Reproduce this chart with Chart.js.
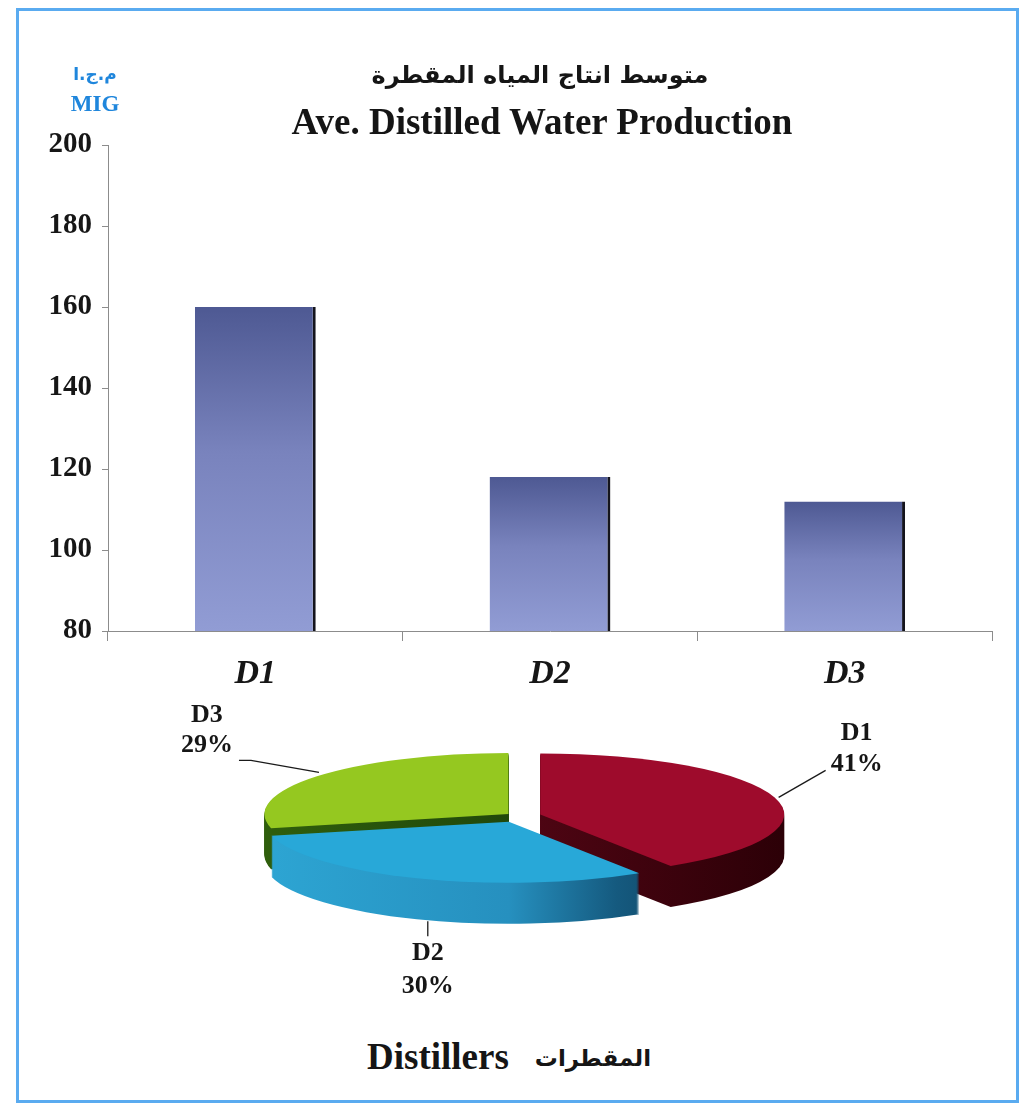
<!DOCTYPE html>
<html>
<head>
<meta charset="utf-8">
<script src="https://cdn.jsdelivr.net/npm/chart.js@4.4.1/dist/chart.umd.min.js"></script>
<style>
html,body{margin:0;padding:0;background:#fff;}
body{width:1026px;height:1106px;position:relative;overflow:hidden;font-family:"Liberation Serif","Times New Roman",serif;}
#frame{position:absolute;left:16px;top:8px;width:1003px;height:1095px;border:3px solid #5aabf0;box-sizing:border-box;}
#barCanvas{position:absolute;left:0;top:0;}
#pieCanvas{position:absolute;left:0;top:700px;}
.t{position:absolute;white-space:nowrap;color:#151515;font-weight:bold;}
#titleAr{left:0;width:1080px;top:56px;height:38px;line-height:38px;text-align:center;font-family:"DejaVu Sans",sans-serif;font-size:24px;}
#titleEn{left:0;width:1084px;top:102px;height:40px;line-height:40px;text-align:center;font-size:37px;}
#migAr{left:40px;width:110px;top:62px;line-height:24px;text-align:center;color:#1f86dc;font-family:"DejaVu Sans",sans-serif;font-size:17px;}
#migEn{left:40px;width:110px;top:92px;line-height:24px;text-align:center;color:#1f86dc;font-size:23px;}
#caption{left:367px;top:1036px;line-height:42px;font-size:37px;}
#caption .ar{font-family:"DejaVu Sans",sans-serif;font-size:23px;margin-left:26px;position:relative;top:-3px;}
</style>
</head>
<body>
<div id="frame"></div>
<canvas id="barCanvas" width="1026" height="700"></canvas>
<canvas id="pieCanvas" width="1026" height="330"></canvas>
<div class="t" id="migAr" dir="rtl">م.ج.ا</div>
<div class="t" id="migEn">MIG</div>
<div class="t" id="titleAr" dir="rtl">متوسط انتاج المياه المقطرة</div>
<div class="t" id="titleEn">Ave. Distilled Water Production</div>
<div class="t" id="caption"><span>Distillers</span><span class="ar" dir="rtl">المقطرات</span></div>
<script>
// ---- data ----
const categories = ['D1', 'D2', 'D3'];
const production = [160, 118, 112];
const yTicks = [80, 100, 120, 140, 160, 180, 200];

// ---- styles ----
const SERIF = '"Liberation Serif","Times New Roman",serif';
const pieTop = ['#9e0b2c', '#28a8d8', '#95c820'];
const pieSide = [
  [['0', '#6e0a1e'], ['1', '#2c0007']],
  [['0', '#2da5d3'], ['0.5', '#2690bf'], ['0.72', '#155a7f'], ['1', '#0b3550']],
  [['0', '#2f5e0c'], ['1', '#12320a']]
];

Chart.defaults.font.family = SERIF;

new Chart(document.getElementById('barCanvas'), {
  type: 'bar',
  data: {
    labels: categories,
    datasets: [{
      data: production,
      barPercentage: 0.41,
      categoryPercentage: 1,
      borderWidth: {top: 0, left: 0, bottom: 0, right: 3},
      borderColor: '#14141c',
      borderSkipped: false,
      backgroundColor: (c) => {
        const ch = c.chart;
        if (!ch.chartArea || !ch.scales.y) return '#7580bb';
        const ys = ch.scales.y;
        const top = ys.getPixelForValue(c.raw);
        const bottom = ys.getPixelForValue(ys.min);
        const g = ch.ctx.createLinearGradient(0, top, 0, bottom);
        g.addColorStop(0, '#4e5993');
        g.addColorStop(0.45, '#7983bd');
        g.addColorStop(1, '#919cd4');
        return g;
      }
    }]
  },
  options: {
    responsive: false,
    animation: false,
    devicePixelRatio: 1,
    layout: {padding: {top: 145, left: 0, right: 34, bottom: 0}},
    plugins: {legend: {display: false}, tooltip: {enabled: false}, title: {display: false}},
    scales: {
      y: {
        min: yTicks[0], max: yTicks[yTicks.length - 1],
        afterFit: (s) => { s.width = 108; },
        afterBuildTicks: (s) => { s.ticks = yTicks.map(v => ({value: v})); },
        grid: {drawOnChartArea: false, drawTicks: true, tickLength: 6, color: '#8c8c8c'},
        border: {color: '#8c8c8c', width: 1},
        ticks: {color: '#161616', padding: 10, font: {family: SERIF, size: 29, weight: 'bold'}}
      },
      x: {
        afterFit: (s) => { s.height = 69; },
        grid: {drawOnChartArea: false, drawTicks: true, tickLength: 10, color: '#8c8c8c', offset: true},
        border: {color: '#8c8c8c', width: 1},
        ticks: {color: '#161616', padding: 13, font: {family: SERIF, size: 34, weight: 'bold', style: 'italic'}}
      }
    }
  }
});

// 3D pie plugin: squashes the library's arcs into an ellipse and extrudes them
const pie3d = {
  id: 'pie3d',
  geom(chart) {
    const o = chart.options.plugins.pie3d;
    const arcs = chart.getDatasetMeta(0).data;
    const r = arcs[0].outerRadius;
    return {o, arcs, r, cx0: arcs[0].x, cy0: arcs[0].y, sx: o.rx / r, sy: o.ry / r};
  },
  explodeOf(g, arc, i) {
    const h = (arc.startAngle + arc.endAngle) / 2;
    const e = g.o.explode[i];
    return [Math.cos(h) * e * g.o.rx, Math.sin(h) * e * g.o.ry];
  },
  beforeDatasetsDraw(chart) {
    const ctx = chart.ctx;
    const g = this.geom(chart);
    const drawArc = (arc, i, dy, fillFn) => {
      const [ex, ey] = this.explodeOf(g, arc, i);
      ctx.save();
      ctx.translate(g.o.cx + ex, g.o.cy + ey + dy);
      ctx.scale(g.sx, g.sy);
      ctx.translate(-g.cx0, -g.cy0);
      if (fillFn) {
        const saved = arc.options;
        arc.options = Object.assign({}, saved, {backgroundColor: fillFn(), borderWidth: 0});
        arc.draw(ctx);
        arc.options = saved;
      } else {
        arc.draw(ctx);
      }
      ctx.restore();
    };
    const sideFill = (i) => () => {
      const gr = ctx.createLinearGradient(g.cx0 - g.r, 0, g.cx0 + g.r, 0);
      pieSide[i].forEach(([s, c]) => gr.addColorStop(+s, c));
      return gr;
    };
    for (let d = g.o.depth; d >= 1; d--) {
      g.arcs.forEach((arc, i) => drawArc(arc, i, d, sideFill(i)));
    }
    g.arcs.forEach((arc, i) => drawArc(arc, i, 0, null));
    return false;
  },
  afterDraw(chart) {
    const ctx = chart.ctx;
    const g = this.geom(chart);
    const vals = chart.data.datasets[0].data;
    const sum = vals.reduce((a, b) => a + b, 0);
    ctx.save();
    ctx.strokeStyle = '#1a1a1a';
    ctx.lineWidth = 1.3;
    ctx.fillStyle = '#161616';
    ctx.font = 'bold 26px ' + SERIF;
    ctx.textAlign = 'center';
    ctx.textBaseline = 'middle';
    g.arcs.forEach((arc, i) => {
      const L = g.o.labels[i];
      const h = (arc.startAngle + arc.endAngle) / 2;
      const [ex, ey] = this.explodeOf(g, arc, i);
      const ax = g.o.cx + ex + Math.cos(h) * g.o.rx + L.start[0];
      const ay = g.o.cy + ey + Math.sin(h) * g.o.ry + (Math.sin(h) > 0.5 ? g.o.depth : 0) + L.start[1];
      ctx.beginPath();
      ctx.moveTo(ax, ay);
      L.leader.forEach(([dx, dy]) => ctx.lineTo(ax + dx, ay + dy));
      ctx.stroke();
      const pct = Math.round(vals[i] / sum * 100) + '%';
      ctx.fillText(chart.data.labels[i], ax + L.text[0], ay + L.text[1]);
      ctx.fillText(pct, ax + L.text[0], ay + L.text[1] + L.gap);
    });
    ctx.restore();
  }
};

new Chart(document.getElementById('pieCanvas'), {
  type: 'pie',
  data: {
    labels: categories,
    datasets: [{data: production, backgroundColor: pieTop, borderWidth: 0, offset: 0}]
  },
  options: {
    responsive: false,
    animation: false,
    devicePixelRatio: 1,
    layout: {padding: 0},
    plugins: {
      legend: {display: false},
      tooltip: {enabled: false},
      pie3d: {
        cx: 518, cy: 116, rx: 244, ry: 61, depth: 41,
        explode: [0.095, 0.1, 0.05],
        labels: [
          {start: [4, 0], leader: [[47, -27]], text: [78, -64], gap: 31},
          {start: [11, 2], leader: [[0, 15]], text: [0, 32], gap: 33},
          {start: [2, -4], leader: [[-68, -12], [-80, -12]], text: [-112, -57], gap: 30}
        ]
      }
    }
  },
  plugins: [pie3d]
});
</script>
</body>
</html>
